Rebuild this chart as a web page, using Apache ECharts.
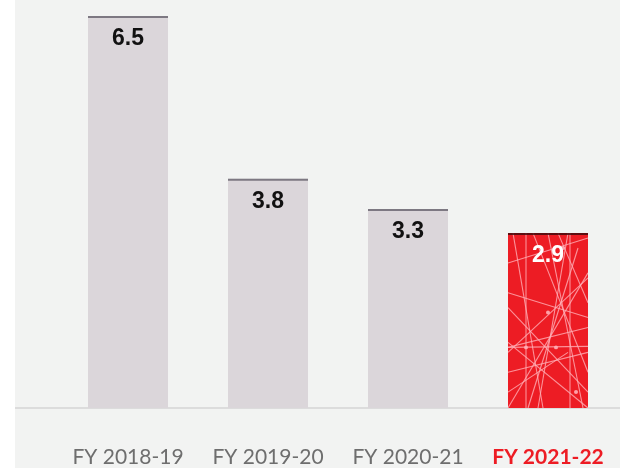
<!DOCTYPE html>
<html>
<head>
<meta charset="utf-8">
<script src="https://cdn.jsdelivr.net/npm/echarts@6/dist/echarts.min.js"></script>
<style>
  html, body { margin: 0; padding: 0; background: #ffffff; }
  #chart { width: 620px; height: 468px; }
</style>
</head>
<body>
<div id="chart"></div>
<script>
// Fiscal years and their values
const categories = ['FY 2018-19', 'FY 2019-20', 'FY 2020-21', 'FY 2021-22'];
const values = [6.5, 3.8, 3.3, 2.9];
const highlightIndex = 3;

const greyBar = '#dbd6da';
const greyTop = '#65606c';
const red = '#ed1c24';
const redTop = '#3a0a0c';
const W = 620, H = 468;

// Network-like texture, drawn over the rectangle of the highlighted bar
// (pattern coordinates are global, so lines are offset to the bar's box)
function makeTexture(bx, by, bw, bh) {
  const c = document.createElement('canvas');
  c.width = W; c.height = H;
  const g = c.getContext('2d');
  g.fillStyle = red;
  g.fillRect(0, 0, W, H);
  g.save();
  g.translate(bx, by);
  g.scale(bw / 80, bh / 176);
  g.strokeStyle = 'rgba(255,175,182,0.8)';
  g.lineWidth = 1.1;
  const lines = [
    [0, 30, 80, 5], [0, 60, 80, 85], [0, 115, 80, 95], [0, 120, 80, 45],
    [5, 0, 35, 176], [18, 0, 18, 176], [40, 0, 75, 176], [60, 0, 30, 176],
    [0, 140, 80, 120], [0, 110, 80, 176], [70, 15, 20, 176], [0, 75, 80, 160],
    [50, 0, 80, 70], [80, 40, 0, 176], [0, 115, 80, 114], [25, 0, 80, 140],
    [0, 160, 60, 120], [62, 0, 62, 176]
  ];
  lines.forEach(l => { g.beginPath(); g.moveTo(l[0], l[1]); g.lineTo(l[2], l[3]); g.stroke(); });
  g.fillStyle = 'rgba(255,175,182,0.9)';
  [[55, 15], [48, 115], [18, 115], [68, 160], [40, 80]].forEach(p => {
    g.beginPath(); g.arc(p[0], p[1], 2, 0, Math.PI * 2); g.fill();
  });
  g.restore();
  return c;
}

const chart = echarts.init(document.getElementById('chart'), null, { renderer: 'canvas' });
const BAR_W = 80;

function buildOption(hlColor) {
  return {
    animation: false,
    backgroundColor: 'transparent',
    graphic: [
      {
        type: 'rect', z: -10, silent: true,
        shape: { x: 15, y: 0, width: W - 15, height: H },
        style: { fill: '#f2f3f2' }
      },
      {
        type: 'rect', z: -5, silent: true,
        shape: { x: 15, y: 407, width: W - 15, height: 2 },
        style: { fill: '#dcdcdc' }
      }
    ],
    grid: { left: 58, right: 2, top: 16, bottom: 60 },
    xAxis: {
      type: 'category',
      data: categories,
      axisLine: { show: false },
      axisTick: { show: false },
      axisLabel: {
        interval: 0,
        margin: 39,
        fontFamily: 'Lato',
        fontSize: 21,
        color: '#6e6e6e',
        formatter: (v, i) => i === highlightIndex ? '{hl|' + v + '}' : v,
        rich: { hl: { fontFamily: 'Lato', fontSize: 21, fontWeight: 'bold', color: red } }
      }
    },
    yAxis: { type: 'value', min: 0, max: 6.5, show: false, splitLine: { show: false } },
    series: [
      {
        type: 'bar',
        barWidth: BAR_W,
        data: values.map((v, i) => ({
          value: v,
          itemStyle: { color: i === highlightIndex ? hlColor : greyBar },
          label: { color: i === highlightIndex ? '#ffffff' : '#111111' }
        })),
        label: {
          show: true,
          position: 'insideTop',
          distance: 11,
          fontFamily: 'Liberation Sans',
          fontWeight: 'bold',
          fontSize: 23,
          formatter: p => p.value.toFixed(1)
        }
      },
      {
        // thin cap line along the top edge of each bar
        type: 'scatter',
        symbol: 'rect',
        symbolSize: [BAR_W, 2],
        symbolOffset: [0, 1],
        z: 5,
        silent: true,
        data: values.map((v, i) => ({
          value: v,
          itemStyle: { color: i === highlightIndex ? redTop : greyTop }
        }))
      }
    ]
  };
}

chart.setOption(buildOption(red));

// Locate the highlighted bar through the axes, then apply the texture
const topPt = chart.convertToPixel({ gridIndex: 0 }, [highlightIndex, values[highlightIndex]]);
const basePt = chart.convertToPixel({ gridIndex: 0 }, [highlightIndex, 0]);
const tex = makeTexture(topPt[0] - BAR_W / 2, topPt[1], BAR_W, basePt[1] - topPt[1]);
chart.setOption(buildOption({ image: tex, repeat: 'no-repeat' }));
</script>
</body>
</html>
